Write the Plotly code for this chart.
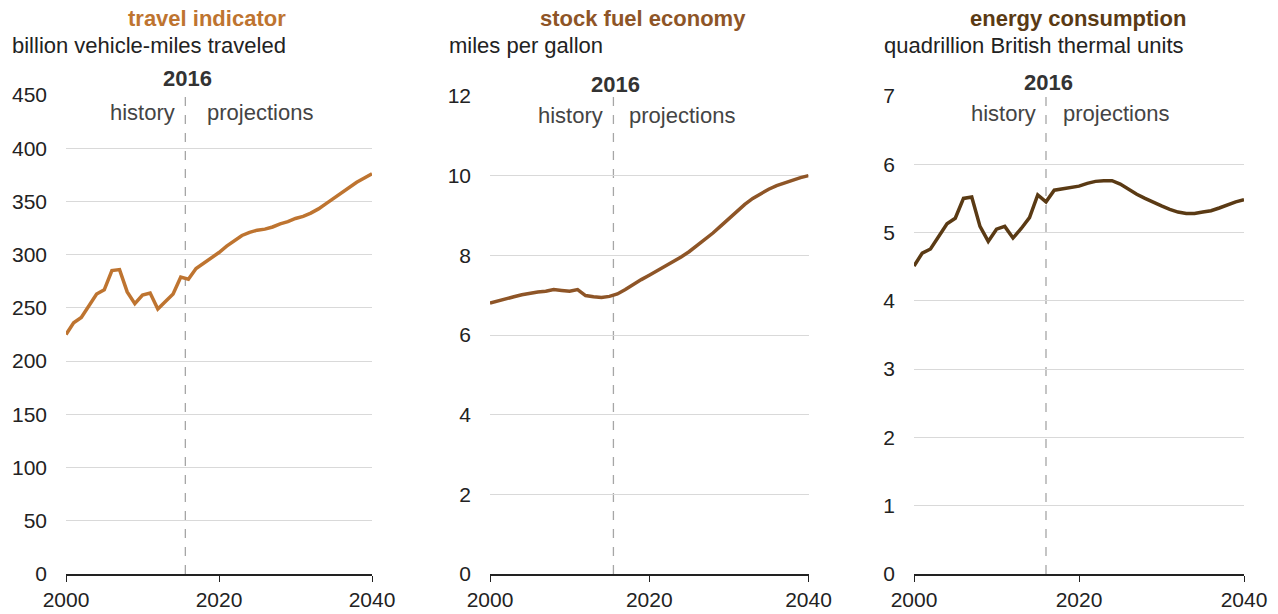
import plotly.graph_objects as go

years = list(range(2000, 2041))

travel = [225, 236, 241, 252, 263, 267, 285, 286, 265, 254,
          262, 264, 249, 256, 263, 279, 277, 287, 292, 297,
          302, 308, 313, 318, 321, 323, 324, 326, 329, 331,
          334, 336, 339, 343, 348, 353, 358, 363, 368, 372, 376]

fuel_economy = [6.80, 6.86, 6.91, 6.96, 7.01, 7.05, 7.08, 7.10, 7.14, 7.12,
                7.10, 7.14, 6.99, 6.96, 6.94, 6.97, 7.03, 7.14, 7.27, 7.39,
                7.50, 7.61, 7.72, 7.83, 7.96, 8.09, 8.24, 8.39, 8.56, 8.74,
                8.92, 9.10, 9.28, 9.43, 9.55, 9.66, 9.75, 9.82, 9.89, 9.95, 10.00]

energy = [4.51, 4.70, 4.76, 4.95, 5.13, 5.21, 5.50, 5.52, 5.09, 4.87,
          5.05, 5.09, 4.92, 5.06, 5.22, 5.55, 5.45, 5.62, 5.64, 5.65,
          5.68, 5.72, 5.75, 5.76, 5.76, 5.71, 5.63, 5.56, 5.50, 5.44,
          5.39, 5.34, 5.30, 5.28, 5.28, 5.30, 5.32, 5.36, 5.41, 5.45, 5.48]

titles = ["travel indicator", "stock fuel economy", "energy consumption"]
subtitles = ["billion vehicle-miles traveled", "miles per gallon",
             "quadrillion British thermal units"]
colors = ["#BE7430", "#8E5527", "#5A3A14"]
y_ranges = [[0, 450], [0, 12], [0, 7]]
y_dticks = [50, 2, 1]
x_ticks = [2000, 2020, 2040]
divider_year = [2015.6, 2015.5, 2016.0]
divider_label = "2016"

W, H = 1278, 614
FONT = "Liberation Sans, Arial, sans-serif"

def fx(px):
    return px / W

def fy(py):
    return 1 - py / H

# pixel layout of each panel: (left, right, top, bottom)
panels = [(66, 372, 95, 574), (490, 808.5, 96, 574), (914, 1244, 96, 574)]
title_pos = [(207, 18), (643, 18), (1078, 18)]
sub_pos = [(10, 45), (447, 45), (882, 45)]
lbl2016_y = [78, 84, 82]
hist_y = [113, 116, 114]
proj_shift = [20, 14, 15]

series = [travel, fuel_economy, energy]

fig = go.Figure()
annotations = []
shapes = []
layout_axes = {}

for i in range(3):
    n = "" if i == 0 else str(i + 1)
    xa, ya = "x" + n, "y" + n
    fig.add_trace(go.Scatter(
        x=years, y=series[i], mode="lines",
        line=dict(color=colors[i], width=3.5),
        xaxis=xa, yaxis=ya, showlegend=False, hoverinfo="x+y"))
    l, r, t, b = panels[i]
    layout_axes["xaxis" + n] = dict(
        domain=[fx(l), fx(r)], range=[2000, 2040], anchor=ya,
        tickvals=x_ticks, showgrid=False, zeroline=False,
        showline=True, linecolor="#222222", linewidth=1.5,
        ticks="outside", ticklen=6, tickcolor="#222222", tickwidth=1.2,
        tickfont=dict(family=FONT, size=21, color="#222222"),
        fixedrange=True)
    layout_axes["yaxis" + n] = dict(
        domain=[fy(b), fy(t)], range=y_ranges[i], anchor=xa,
        dtick=y_dticks[i], tick0=0, showgrid=True, gridcolor="#d9d9d9",
        gridwidth=1, zeroline=False, showline=False, ticks="",
        ticklabelstandoff=18,
        tickfont=dict(family=FONT, size=21, color="#222222"),
        fixedrange=True)
    shapes.append(dict(type="line", xref=xa, yref=ya,
                       x0=divider_year[i], x1=divider_year[i],
                       y0=0, y1=y_ranges[i][1],
                       line=dict(color="#a6a6a6", width=1.3, dash="dash"),
                       layer="below"))
    tx, ty = title_pos[i]
    annotations.append(dict(
        text="<b>" + titles[i] + "</b>", xref="paper", yref="paper",
        x=fx(tx), y=fy(ty), xanchor="center", yanchor="middle",
        showarrow=False, font=dict(family=FONT, size=22, color=colors[i])))
    sx, sy = sub_pos[i]
    annotations.append(dict(
        text=subtitles[i], xref="paper", yref="paper",
        x=fx(sx), y=fy(sy), xanchor="left", yanchor="middle",
        showarrow=False, font=dict(family=FONT, size=22, color="#222222")))
    annotations.append(dict(
        text="<b>" + divider_label + "</b>", xref=xa, yref="paper",
        x=divider_year[i] + 0.3, y=fy(lbl2016_y[i]), xanchor="center",
        yanchor="middle", showarrow=False,
        font=dict(family=FONT, size=22, color="#333333")))
    annotations.append(dict(
        text="history", xref=xa, yref="paper",
        x=divider_year[i], y=fy(hist_y[i]), xanchor="right",
        yanchor="middle", xshift=-8, showarrow=False,
        font=dict(family=FONT, size=22, color="#444444")))
    annotations.append(dict(
        text="projections", xref=xa, yref="paper",
        x=divider_year[i], y=fy(hist_y[i]), xanchor="left",
        yanchor="middle", xshift=proj_shift[i], showarrow=False,
        font=dict(family=FONT, size=22, color="#444444")))

fig.update_layout(
    width=W, height=H, margin=dict(l=0, r=0, t=0, b=0, autoexpand=False),
    paper_bgcolor="white", plot_bgcolor="white",
    annotations=annotations, shapes=shapes, **layout_axes)

fig.write_html("out.html",
               config={"displayModeBar": False},
               post_script="document.body.style.margin='0';"
                           "document.body.style.overflow='hidden';")
